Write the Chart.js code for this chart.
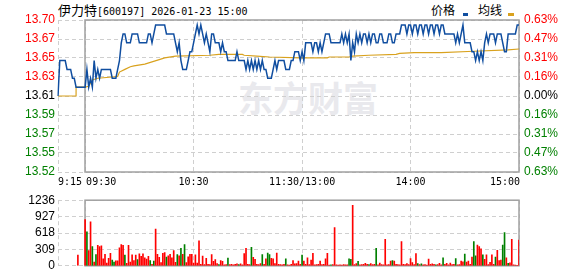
<!DOCTYPE html>
<html>
<head>
<meta charset="utf-8">
<script src="https://cdn.jsdelivr.net/npm/chart.js@4.4.1/dist/chart.umd.min.js"></script>
<style>
    html, body { margin: 0; padding: 0; background: #fff; }
    #wrap { position: relative; width: 578px; height: 276px; overflow: hidden; }
    .abs { position: absolute; }
    #title { left: 58px; top: 0; height: 17px; line-height: 17px; white-space: pre; color: #000; }
    #title .cn { font: 13px "Noto Sans CJK SC"; }
    #title .en { font: 10px "DejaVu Sans Mono"; }
    .lg { font: 12px "Noto Sans CJK SC"; top: 1px; line-height: 17px; color: #000; }
    .mk { height: 3px; top: 13px; }
    #mark { left: 238px; top: 71px; font: bold 35px "Noto Sans CJK SC"; color: #e9e9ed; letter-spacing: 0px; }
    #priceBox { left: 0; top: 0; width: 578px; height: 190px; }
    #volBox { left: 0; top: 190px; width: 578px; height: 86px; }
</style>
</head>
<body>
<div id="wrap">
    <div id="mark" class="abs">东方财富</div>
    <div id="title" class="abs"><span class="cn">伊力特</span><span class="en">[600197] 2026-01-23 15:00</span></div>
    <div class="abs lg" style="left:431px">价格</div>
    <div class="abs mk" style="left:463px;width:5px;background:#104EA0"></div>
    <div class="abs lg" style="left:478px">均线</div>
    <div class="abs mk" style="left:508px;width:6px;background:#D9A21E"></div>
    <div id="priceBox" class="abs"><canvas id="priceChart"></canvas></div>
    <div id="volBox" class="abs"><canvas id="volChart"></canvas></div>
</div>
<script>
(function () {
    const preClose = 13.61;
    const maxPct = 0.63;

    const priceTickLabels = ["13.70", "13.67", "13.65", "13.63", "13.61", "13.59", "13.57", "13.55", "13.52"];
    const pctTickLabels = ["0.63%", "0.47%", "0.31%", "0.16%", "0.00%", "0.16%", "0.31%", "0.47%", "0.63%"];
    const volTickLabels = ["1236", "927", "618", "309", "0"];
    const timeTickKeys = ["09:15", "09:30", "10:30", "11:30", "14:00", "15:00"];
    const timeTickTexts = ["9:15", "09:30", "10:30", "11:30/13:00", "14:00", "15:00"];

    // minutes: 09:15-11:30, 13:01-15:00
    const times = [];
    const fmt = (t) => String(Math.floor(t / 60)).padStart(2, "0") + ":" + String(t % 60).padStart(2, "0");
    for (let t = 9 * 60 + 15; t <= 11 * 60 + 30; t++) times.push(fmt(t));
    for (let t = 13 * 60 + 1; t <= 15 * 60; t++) times.push(fmt(t));

    // 价格 (one per minute from 09:15)
    const price = [
        13.61, 13.65, 13.65, 13.65, 13.65, 13.64, 13.64, 13.64, 13.63, 13.63, 13.62, 13.62, 13.62, 13.62, 13.62,
        13.62, 13.64, 13.62, 13.63, 13.62, 13.65, 13.63, 13.64, 13.63, 13.64,
        13.64, 13.64, 13.64, 13.64, 13.64, 13.63, 13.63, 13.63, 13.64, 13.65,
        13.67, 13.68, 13.68, 13.67, 13.67, 13.67, 13.68, 13.68, 13.68, 13.68,
        13.67, 13.67, 13.67, 13.67, 13.67, 13.68, 13.68, 13.67, 13.68, 13.69,
        13.69, 13.69, 13.69, 13.69, 13.69, 13.68, 13.68, 13.68, 13.68, 13.68,
        13.67, 13.66, 13.67, 13.65, 13.64, 13.64, 13.64, 13.65, 13.66, 13.66,
        13.67, 13.68, 13.69, 13.68, 13.69, 13.68, 13.67, 13.68, 13.67, 13.66,
        13.68, 13.68, 13.67, 13.67, 13.67, 13.66, 13.67, 13.66, 13.66, 13.65,
        13.65, 13.65, 13.65, 13.65, 13.66, 13.65, 13.65, 13.65, 13.65, 13.64,
        13.65, 13.64, 13.65, 13.64, 13.65, 13.64, 13.65, 13.64, 13.65, 13.64,
        13.64, 13.63, 13.63, 13.63, 13.64, 13.65, 13.64, 13.65, 13.65, 13.65,
        13.65, 13.64, 13.64, 13.64, 13.65, 13.65, 13.66, 13.66, 13.66, 13.65,
        13.66, 13.65, 13.67, 13.67, 13.67, 13.67, 13.66, 13.67, 13.67, 13.66,
        13.67, 13.66, 13.67, 13.68, 13.68, 13.68, 13.67, 13.67, 13.67, 13.67,
        13.67, 13.67, 13.68, 13.67, 13.68, 13.67, 13.68, 13.65, 13.67, 13.66,
        13.68, 13.67, 13.68, 13.67, 13.68, 13.68, 13.67, 13.68, 13.67, 13.68,
        13.68, 13.67, 13.67, 13.68, 13.68, 13.67, 13.67, 13.67, 13.68, 13.68,
        13.67, 13.67, 13.68, 13.68, 13.68, 13.69, 13.69, 13.69, 13.68, 13.69,
        13.69, 13.68, 13.69, 13.69, 13.68, 13.69, 13.69, 13.68, 13.69, 13.69,
        13.68, 13.69, 13.69, 13.68, 13.69, 13.69, 13.68, 13.69, 13.69, 13.68,
        13.68, 13.68, 13.68, 13.68, 13.68, 13.67, 13.68, 13.67, 13.68, 13.69,
        13.67, 13.67, 13.67, 13.67, 13.66, 13.66, 13.65, 13.66, 13.65, 13.66,
        13.65, 13.67, 13.68, 13.67, 13.68, 13.68, 13.68, 13.67, 13.68, 13.68,
        13.68, 13.67, 13.66, 13.66, 13.68, 13.68, 13.68, 13.68, 13.68, 13.69,
        13.69
    ];

    // 均线, read at the points where it bends
    const avgTimes = ["09:15", "09:25", "09:25", "09:30", "09:32", "09:34", "09:37", "09:48", "09:49", "09:52",
        "09:55", "09:57", "10:03", "10:11", "10:14", "10:20", "10:39", "10:44", "10:57", "10:58",
        "11:05", "11:12", "11:29", "13:14", "13:15", "13:26", "13:28", "13:37", "13:52", "13:54",
        "14:02", "14:17", "14:35", "14:54", "15:00"];
    const avgValues = [13.61, 13.61, 13.62, 13.62, 13.621, 13.628, 13.630, 13.632, 13.637, 13.640,
        13.643, 13.644, 13.646, 13.651, 13.653, 13.655, 13.656, 13.657, 13.657, 13.656,
        13.655, 13.654, 13.653, 13.653, 13.654, 13.654, 13.655, 13.656, 13.657, 13.658,
        13.659, 13.659, 13.6605, 13.662, 13.663];

    // 成交量 (one per minute from 09:15) and direction r = up, g = down
    const volume = [
        null, null, null, null, null, null, null, null, null, null, null, 200, null, null, null,
        870, 640, 285, 830, 360, 70, 210, 385, 360, 375,
        130, 215, 50, 140, 235, 110, 70, 95, 95, 340,
        400, 385, 200, 45, 385, 70, 205, 100, 200, 115,
        225, 180, 225, 150, 125, 180, 100, 30, 90, 690,
        215, 160, 60, 235, 250, 165, 190, 215, 150, 285,
        65, 210, 190, 330, 215, 400, 60, 170, 215, 215,
        50, 205, 50, 470, 30, 185, 25, 140, 30, 25,
        210, 85, 115, 40, 25, 100, 85, 20, 25, 145,
        25, 30, 20, 30, 35, 25, 35, 20, 230, 330,
        30, 25, 350, 160, 120, 30, 25, 40, 210, 30,
        130, 240, 210, 140, 130, 40, 240, 30, 25, 20,
        30, 130, 20, 15, 30, 100, 35, 40, 90, 30,
        200, 90, 30, 150, 25, 110, 235, 20, 25, 30,
        90, 25, 30, 130, 235, 15, 20, 25, 720, 20,
        15, 20, 15, 25, 20, 20, 130, 120, 1140, 25,
        40, 85, 20, 25, 30, 45, 30, 25, 40, 25,
        30, 330, 20, 50, 25, 20, 500, 20, 25, 90,
        100, 90, 30, 25, 20, 455, 30, 25, 40, 25,
        135, 60, 25, 230, 40, 25, 35, 20, 25, 15,
        125, 30, 35, 30, 20, 25, 45, 20, 150, 30,
        45, 20, 50, 25, 30, 135, 20, 25, 90, 75,
        220, 70, 90, 30, 165, 455, 190, 390, 360, 320,
        205, 120, 205, 25, 65, 205, 30, 165, 290, 100,
        110, 390, 625, 150, 45, 55, 500, 20, 15, 10,
        485
    ];
    const volDir =
        "...........r..." +
        "rgrrgrgrrr" + "rrrrrggrrr" + "rrgrrrrrrg" + "rrrrrrgrgr" + "rrrrrgrrrr" +
        "rgrgrgrrrr" + "rrrrrrrrrr" + "rrrrgrrrrg" + "rrrrrgrrrr" + "rrgrrrrrgr" +
        "rggrrrrrrr" + "rgrrrrrrrr" + "grrrrrrrrr" + "rrrrrrgrrr" + "rrrrrrggrr" +
        "rgrrrrrgrr" + "rgrrrrrrrr" + "grrrrrrrrr" + "rrrrgrgrrr" + "rrrrgrrrgr" +
        "rrrrrgrrrr" + "grrrrggrrr" + "grrrrrrgrr" + "rggrgrrrrr" + "r";

    const yMax = preClose * (1 + maxPct / 100);
    const yMin = preClose * (1 - maxPct / 100);
    const RED = "#ff0000";
    const GREEN = "#008000";
    const GRID = "#cfcfcf";
    const DASH = [4, 3];

    const tickColor = (ctx) => (ctx.index > 4 ? RED : ctx.index < 4 ? GREEN : "#000");
    const timeTicks = (s) => {
        s.ticks = timeTickKeys.map((k) => ({ value: times.indexOf(k) }));
    };

    // solid frame of the trading session (09:30 - 15:00)
    const frame = {
        id: "frame",
        beforeDatasetsDraw(chart) {
            const { ctx, chartArea, scales } = chart;
            const x0 = Math.round(scales.x.getPixelForValue(times.indexOf("09:30")));
            ctx.save();
            ctx.strokeStyle = "#a0a0a0";
            ctx.lineWidth = 1.5;
            ctx.strokeRect(x0, chartArea.top, chartArea.right - x0, chartArea.bottom - chartArea.top);
            ctx.restore();
        },
    };

    const timeLabels = {
        id: "timeLabels",
        afterDraw(chart) {
            const { ctx, chartArea, scales } = chart;
            ctx.save();
            ctx.font = '10px "DejaVu Sans Mono"';
            ctx.fillStyle = "#000";
            ctx.textBaseline = "middle";
            timeTickKeys.forEach((k, j) => {
                const px = scales.x.getPixelForValue(times.indexOf(k));
                let dx = 0;
                ctx.textAlign = "center";
                if (j === 0) ctx.textAlign = "left";
                if (j === 1) { ctx.textAlign = "left"; dx = 1; }
                if (j === timeTickKeys.length - 1) { ctx.textAlign = "right"; dx = 1; }
                ctx.fillText(timeTickTexts[j], px + dx, chartArea.bottom + 10);
            });
            ctx.restore();
        },
    };

    Chart.defaults.font.family = '"Liberation Sans", Arial, sans-serif';
    Chart.defaults.font.size = 12;
    Chart.defaults.color = "#000";

    const xAxis = (height) => ({
        type: "category",
        offset: false,
        grid: { color: GRID, drawTicks: false, offset: false },
        border: { display: false, dash: DASH },
        ticks: { display: false },
        afterBuildTicks: timeTicks,
        afterFit: (s) => { s.height = height; },
    });

    new Chart(document.getElementById("priceChart"), {
        type: "line",
        data: {
            labels: times,
            datasets: [
                {
                    label: "价格",
                    data: price,
                    borderColor: "#104EA0",
                    borderWidth: 1.5,
                    pointRadius: 0,
                    tension: 0,
                },
                {
                    label: "均线",
                    data: avgTimes.map((t, i) => ({ x: t, y: avgValues[i] })),
                    borderColor: "#D9A21E",
                    borderWidth: 1.2,
                    pointRadius: 0,
                    tension: 0,
                },
            ],
        },
        options: {
            responsive: true,
            maintainAspectRatio: false,
            animation: false,
            devicePixelRatio: 1,
            layout: { padding: { top: 20, left: 0, right: 0, bottom: 0 } },
            plugins: { legend: { display: false }, tooltip: { enabled: false } },
            scales: {
                x: xAxis(18),
                y: {
                    position: "left",
                    min: yMin,
                    max: yMax,
                    grid: { color: GRID, drawTicks: false },
                    border: { display: false, dash: DASH },
                    ticks: {
                        autoSkip: false,
                        padding: 3,
                        color: tickColor,
                        callback: (v, i) => priceTickLabels[priceTickLabels.length - 1 - i],
                    },
                    afterBuildTicks: (s) => {
                        s.ticks = priceTickLabels.map((_, i) => ({ value: yMin + (i * (yMax - yMin)) / 8 }));
                    },
                    afterFit: (s) => { s.width = 58; },
                },
                yPct: {
                    position: "right",
                    min: yMin,
                    max: yMax,
                    grid: { drawOnChartArea: false, drawTicks: false },
                    border: { display: false },
                    ticks: {
                        autoSkip: false,
                        padding: 5,
                        color: tickColor,
                        callback: (v, i) => pctTickLabels[pctTickLabels.length - 1 - i],
                    },
                    afterBuildTicks: (s) => {
                        s.ticks = pctTickLabels.map((_, i) => ({ value: yMin + (i * (yMax - yMin)) / 8 }));
                    },
                    afterFit: (s) => { s.width = 59; },
                },
            },
        },
        plugins: [frame, timeLabels],
    });

    new Chart(document.getElementById("volChart"), {
        type: "bar",
        data: {
            labels: times,
            datasets: [
                {
                    label: "成交量",
                    data: volume,
                    backgroundColor: (ctx) => (volDir[ctx.dataIndex] === "g" ? GREEN : RED),
                    barThickness: 1,
                },
            ],
        },
        options: {
            responsive: true,
            maintainAspectRatio: false,
            animation: false,
            devicePixelRatio: 1,
            layout: { padding: { top: 6, left: 0, right: 59, bottom: 0 } },
            plugins: { legend: { display: false }, tooltip: { enabled: false } },
            scales: {
                x: xAxis(6),
                y: {
                    position: "left",
                    min: 0,
                    max: 1236,
                    grid: { color: GRID, drawTicks: false },
                    border: { display: false, dash: DASH },
                    ticks: {
                        autoSkip: false,
                        padding: 3,
                        callback: (v, i) => volTickLabels[volTickLabels.length - 1 - i],
                    },
                    afterBuildTicks: (s) => {
                        s.ticks = volTickLabels.map((_, i) => ({ value: (i * 1236) / 4 }));
                    },
                    afterFit: (s) => { s.width = 58; },
                },
            },
        },
        plugins: [frame],
    });
})();
</script>
</body>
</html>
